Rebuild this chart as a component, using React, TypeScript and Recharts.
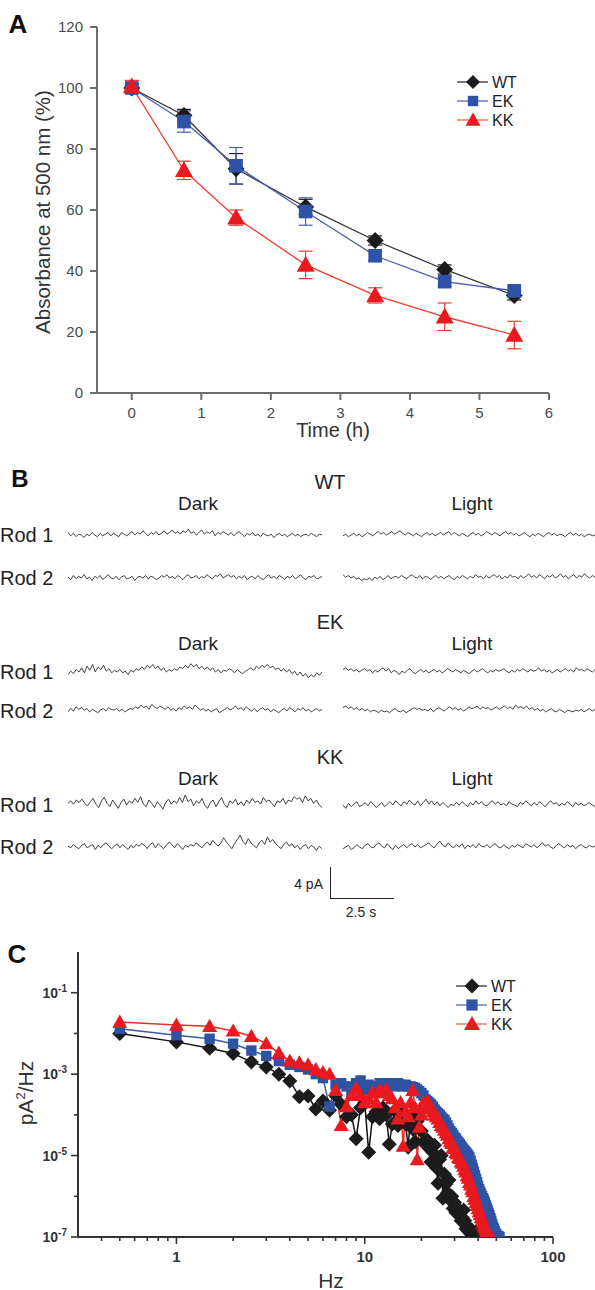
import React from 'react';
import { LineChart, Line, XAxis, YAxis, ErrorBar } from 'recharts';

const FONT = '"Liberation Sans", Arial, Helvetica, sans-serif';

// ---- Panel A: absorbance at 500 nm vs time ----
const timeH = [0, 0.75, 1.5, 2.5, 3.5, 4.5, 5.5];
const wtAbs = [100, 91, 73.5, 61, 50, 40.5, 32];
const ekAbs = [100, 89, 74.5, 59.5, 45, 36.5, 33.5];
const kkAbs = [100.5, 73, 57.5, 42, 32, 25, 19];
const wtAbsErr = [1, 2, 5, 2.5, 1.5, 1.5, 1.5];
const ekAbsErr = [1.5, 3.5, 6, 4.5, 1.5, 1.5, 1.5];
const kkAbsErr = [2, 3, 2.5, 4.5, 2.5, 4.5, 4.5];
const absXTicks = [0, 1, 2, 3, 4, 5, 6];
const absYTicks = [0, 20, 40, 60, 80, 100, 120];

// ---- Panel B: current traces (0.1 pA units) ----
const genotypes = ['WT', 'EK', 'KK'];
const conditions = ['Dark', 'Light'];
const rodNames = ['Rod 1', 'Rod 2'];

const wtDarkRod1 = [3, -1, 2, -2, 1, 0, -3, 1, -1, 3, 0, -2, 2, -1, 1, 3, -1, 2, 0, -2, 3, 1, -1, 2, 4, 0, 3, 1, 5, 2, -1, 3, 1, 4, 0, 2, 5, 1, 3, 6, 2, 4, 1, 5, 3, 7, 2, 4, 0, 3, 6, 1, 4, 2, 5, -1, 3, 1, 4, 2, 0, 3, -1, 2, 4, 1, -2, 2, 0, 3, -1, 1, -2, 2, 0, -1, 1, -3, 0, 2, -1, 1, -2, 0, 2, -1, 1, -2, 0, 1, -1, 2, 0, -2, 1, 0];
const wtDarkRod2 = [1, -2, 3, -1, 2, 0, 4, -1, 1, -3, 2, 0, 3, -2, 1, 4, 0, -1, 2, -2, 1, 3, -1, 0, 2, -3, 1, 2, 0, 3, -1, 2, 1, -2, 0, 3, 1, 4, 0, 2, -1, 3, 1, -2, 2, 4, 0, 1, 3, -1, 2, 0, 4, 1, -1, 3, 2, 5, 0, 2, 4, 1, 3, -1, 2, 0, 3, -2, 1, 2, -1, 3, 0, -2, 1, 4, 0, 2, -1, 3, 1, -2, 2, 0, 3, -1, 1, 4, 0, -2, 2, 1, 3, -1, 0, 2];
const wtLightRod1 = [-1, 1, -2, 0, 2, -1, 1, -2, 0, 3, 1, -1, 2, 4, 1, 3, 0, 2, 4, 1, 3, 5, 2, 0, 3, 1, -1, 2, 0, -2, 1, 3, 0, 2, -1, 1, 3, 0, 2, 4, 0, 3, 1, -1, 2, 0, -2, 1, 3, 0, 2, -1, 1, 4, 2, 0, 3, 1, -1, 2, 4, 1, 3, 0, 2, -1, 1, 3, 0, -2, 1, -1, 2, 0, -2, 1, 3, 0, 2, -1, 1, 0, -2, 1, 3, 0, 2, -1, 1, -2, 0, 1, -1, 0];
const wtLightRod2 = [4, 1, 3, 0, 2, -1, 0, -3, -1, -2, 0, -3, 1, -1, 2, -2, 0, 3, -1, 1, 2, 0, 3, 1, -1, 2, 4, 1, 0, 3, -1, 2, 1, -2, 1, 3, 0, 2, -1, 1, 3, 0, -2, 2, 0, 3, 1, -1, 2, 0, 4, 1, 2, -1, 3, 0, 2, 4, 1, 3, -1, 2, 0, 4, 1, 2, -1, 3, 0, 2, 5, 1, 3, 0, 4, 2, -1, 3, 1, 4, 0, 2, 5, 1, 3, -1, 2, 4, 0, 3, 1, 5, 2, 0, 3, 1];
const ekDarkRod1 = [-3, 1, -2, 3, 0, 5, -1, 7, 2, 9, 0, 6, 3, 8, 1, 4, -1, 2, 0, 3, -1, 1, -3, 2, 0, 4, 2, 6, 3, 8, 5, 9, 4, 7, 2, 5, 0, 3, 1, 4, 2, 6, 4, 8, 5, 10, 6, 9, 4, 7, 3, 6, 2, 5, 0, 3, -1, 2, 1, 4, 2, -1, 3, 0, -2, 1, 3, 5, 2, 7, 4, 8, 6, 9, 5, 7, 3, 5, 1, 4, 0, 3, -2, 1, -4, 0, -5, -2, -7, -3, -6, -1, -4, 0];
const ekDarkRod2 = [-1, 3, 0, 5, 2, 4, 1, 3, -1, 2, 0, -2, 1, 3, 0, 4, 2, 1, 3, 0, 2, -1, 1, 3, 2, 5, 3, 7, 4, 6, 2, 8, 5, 3, 6, 4, 2, 5, 1, 3, 0, 4, 2, 6, 3, 5, 2, 7, 4, 1, 3, 0, 2, -1, 1, 3, -2, 0, 2, 4, 1, 3, 6, 2, 4, 1, 5, 2, 0, 3, -1, 2, 4, 1, 3, -1, 2, 0, -2, 1, 3, 0, 4, 2, -1, 3, 1, 4, 0, 2, -1, 1, 3, 0, 2];
const ekLightRod1 = [3, 5, 2, 4, 1, 3, 0, 2, 4, 1, 3, -1, 2, 0, 3, 5, 1, 4, -1, 2, 0, -3, 1, -1, 2, 4, 0, -2, 1, 3, 0, 2, -1, 1, 3, 0, 2, -1, 1, 4, 2, 0, 3, 1, -1, 2, 0, -2, 1, 3, 0, 2, 4, 1, -1, 2, 0, 3, 1, 2, 4, 1, -1, 2, 0, 3, 1, 4, 2, 0, 3, 1, 2, 5, 1, 3, 0, 2, -1, 1, 3, 0, 2, 4, 1, 3, 0, 5, 2, 3, 1, 4, 2, 0, 3];
const ekLightRod2 = [4, 6, 3, 5, 2, 4, 1, 3, 0, 2, -1, 1, 0, -2, 1, -1, 0, -2, 1, 3, 0, -1, 1, -2, 0, 2, 4, 2, 3, 1, 2, 0, 3, -1, 2, 4, 2, 0, 3, 5, 2, 4, 1, 3, 0, 2, 5, 3, 4, 6, 2, 5, 3, 4, 1, 3, 5, 2, 4, 6, 3, 5, 2, 7, 4, 5, 3, 6, 2, 4, 1, 3, 0, 2, -1, 1, 3, 0, -1, 2, 0, -2, 1, 0, -1, 1, 0, 2, -1, 1, 3, 0, 2];
const kkDarkRod1 = [2, 5, 1, 6, 3, 7, 2, -1, 4, 8, 1, -3, 5, 9, 2, -2, 6, 1, -4, 3, 7, 0, 5, 2, 8, 3, 10, 1, -2, 6, 2, -3, 4, 0, -5, 3, 7, 1, 5, 2, 9, 3, 12, 4, 7, -1, 5, 2, 8, 0, -4, 3, 6, -2, 4, 9, 1, -3, 5, 2, 7, 0, 4, -1, 6, 2, 8, 3, 5, 1, 9, 4, 6, 2, -2, 5, 3, 8, 1, 6, 4, 10, 7, 9, 3, 11, 5, 8, 2, 6, 0, -3];
const kkDarkRod2 = [1, -1, 3, 0, -2, 2, 4, -1, 1, 3, -3, 2, -1, 3, 5, 1, -2, 1, 4, -1, 3, 0, -3, 2, -1, 3, 1, 4, 2, -2, 3, 5, -1, 4, 1, -2, 2, 6, 3, -1, 4, 1, -3, 2, 0, 3, 1, 5, 2, -1, 3, 6, 2, 8, 4, 1, 5, 11, 6, 2, -2, 4, 9, 14, 7, 3, 10, 5, 2, -1, 5, 8, 3, 12, 6, 9, 4, 1, -2, 3, 6, 1, 4, -1, 2, -3, 1, 3, -2, 2, 0, -4, 1, -2];
const kkLightRod1 = [0, -4, 2, -2, 1, 4, -2, 0, 3, -1, 4, 1, -3, 0, 3, -2, 1, 4, 0, 5, 2, -1, 4, 1, 6, 2, 0, 5, -1, 3, 7, 1, 5, 0, 4, -1, 3, 0, -3, 1, -1, 3, 0, 4, 1, -2, 3, 0, 5, 1, 4, 0, -1, 3, 5, 1, 4, 0, 2, -1, 4, 1, 0, -2, 3, 1, 5, 2, -1, 3, 0, 4, 1, -2, 2, 5, 1, 3, -1, 2, 0, 4, 1, -2, 3, 0, 2, -1, 1, 3, 0, -2];
const kkLightRod2 = [-2, 0, 2, -3, -1, 3, 0, -2, 2, 4, 0, -1, 3, 5, 1, -1, 4, 0, -3, 2, -2, 1, 3, -1, 2, 4, 0, 3, -1, 1, 3, 5, 1, -1, 4, 7, 2, 0, 5, 1, -1, 3, 0, 4, -2, 2, 0, 3, -1, 4, 1, 0, 3, -1, 2, 4, 0, -1, 3, 0, -2, 2, 0, 3, 1, -1, 4, 2, 0, 3, -1, 2, 5, 1, 3, 0, -2, 2, 4, 1, -1, 3, 0, 2, -2, 1, 3, 0, -1, 2, 0, 1];

const traces = [
  [[wtDarkRod1, wtLightRod1], [wtDarkRod2, wtLightRod2]],
  [[ekDarkRod1, ekLightRod1], [ekDarkRod2, ekLightRod2]],
  [[kkDarkRod1, kkLightRod1], [kkDarkRod2, kkLightRod2]],
];

// ---- Panel C: power spectra ----
const freqHz = [
  0.5, 1, 1.5, 2, 2.5, 3, 3.5, 4, 4.5, 5,
  5.5, 6, 6.5, 7, 7.5, 8, 8.5, 9, 9.5, 10,
  10.5, 11, 11.5, 12, 12.5, 13, 13.5, 14, 14.5, 15,
  15.5, 16, 16.5, 17, 17.5, 18, 18.5, 19, 19.5, 20,
  20.5, 21, 21.5, 22, 22.5, 23, 23.5, 24, 24.5, 25,
  25.5, 26, 26.5, 27, 27.5, 28, 28.5, 29, 29.5, 30,
  30.5, 31, 31.5, 32, 32.5, 33, 33.5, 34, 34.5, 35,
  35.5, 36, 36.5, 37, 37.5, 38, 38.5, 39, 39.5, 40,
  40.5, 41, 41.5, 42, 42.5, 43, 43.5, 44, 44.5, 45,
  45.5, 46, 46.5, 47, 47.5, 48, 48.5, 49, 49.5, 50,
  50.5, 51, 51.5, 52,
];
const wtPsd = [
  1.0e-2, 6.2e-3, 4.3e-3, 3.2e-3, 2.0e-3, 1.5e-3, 1.0e-3, 6.8e-4, 2.8e-4, 2.9e-4,
  1.4e-4, 2.2e-4, 1.3e-4, 3.0e-4, 1.8e-4, 9.0e-5, 1.0e-4, 2.6e-5, 1.5e-4, 2.0e-4,
  1.2e-5, 9.0e-5, 1.2e-4, 8.0e-5, 1.5e-4, 1.0e-4, 1.9e-5, 6.0e-5, 1.3e-4, 5.5e-5,
  8.0e-5, 1.1e-4, 6.0e-5, 1.6e-5, 9.0e-5, 4.5e-5, 2.2e-5, 7.0e-5, 1.2e-4, 4.0e-5,
  2.2e-5, 1.9e-5, 2.4e-5, 1.5e-5, 7.0e-6, 1.2e-5, 1.8e-5, 5.0e-6, 2.1e-6, 8.0e-6,
  1.0e-5, 9.0e-7, 3.5e-6, 2.0e-6, 1.2e-6, 2.5e-6, 8.0e-7, 1.0e-6, 5.0e-7, 7.0e-7,
  4.0e-7, 5.0e-7, 4.6e-7, 4.0e-7, 2.5e-7, 3.0e-7, 4.6e-7, 2.5e-7, 1.6e-7, 1.8e-7,
  1.4e-7, 1.5e-7, 1.2e-7, 1.5e-7, 1.1e-7, 1.2e-7, 1.05e-7, 1.3e-7, 1.0e-7, 1.0e-7,
  null, null, null, null, null, null, null, null, null, null,
  null, null, null, null, null, null, null, null, null, null,
  null, null, null, null,
];
const ekPsd = [
  1.3e-2, 9.0e-3, 7.4e-3, 5.6e-3, 3.8e-3, 2.8e-3, 2.1e-3, 1.7e-3, 1.5e-3, 1.3e-3,
  1.0e-3, 8.0e-4, 1.6e-4, 5.5e-4, 6.0e-4, 5.0e-4, 3.5e-4, 6.0e-4, 7.0e-4, 4.0e-4,
  5.5e-4, 4.5e-4, 5.0e-4, 6.0e-4, 5.0e-4, 5.5e-4, 6.0e-4, 5.5e-4, 5.0e-4, 6.0e-4,
  5.5e-4, 5.0e-4, 5.5e-4, 5.0e-4, 5.0e-4, 4.8e-4, 4.6e-4, 4.2e-4, 3.8e-4, 3.4e-4,
  3.0e-4, 2.4e-4, 2.2e-4, 2.0e-4, 1.8e-4, 1.6e-4, 1.35e-4, 1.2e-4, 1.1e-4, 1.0e-4,
  9.0e-5, 8.0e-5, 7.5e-5, 6.5e-5, 5.5e-5, 4.6e-5, 4.0e-5, 3.6e-5, 3.2e-5, 2.8e-5,
  2.6e-5, 2.3e-5, 2.1e-5, 1.9e-5, 1.7e-5, 1.55e-5, 1.4e-5, 1.3e-5, 1.2e-5, 1.1e-5,
  1.0e-5, 9.0e-6, 7.5e-6, 6.0e-6, 5.0e-6, 4.0e-6, 3.3e-6, 2.7e-6, 2.2e-6, 1.8e-6,
  1.5e-6, 1.3e-6, 1.15e-6, 1.0e-6, 9.0e-7, 8.0e-7, 7.0e-7, 6.0e-7, 5.2e-7, 4.5e-7,
  3.9e-7, 3.4e-7, 2.9e-7, 2.5e-7, 2.1e-7, 1.8e-7, 1.6e-7, 1.4e-7, 1.25e-7, 1.15e-7,
  1.08e-7, 1.04e-7, 1.02e-7, 1.0e-7,
];
const kkPsd = [
  1.9e-2, 1.6e-2, 1.5e-2, 1.15e-2, 8.5e-3, 5.6e-3, 3.3e-3, 2.1e-3, 1.9e-3, 1.7e-3,
  1.3e-3, 1.1e-3, 1.0e-3, 4.0e-4, 5.5e-5, 1.6e-4, 3.0e-4, 4.5e-4, 3.0e-4, 2.0e-4,
  2.5e-4, 3.5e-4, 2.0e-4, 4.0e-4, 3.5e-4, 4.2e-4, 3.0e-4, 2.5e-4, 1.5e-4, 8.0e-5,
  2.0e-4, 1.7e-5, 1.2e-4, 9.0e-5, 2.0e-4, 4.0e-4, 1.5e-4, 8.0e-6, 5.0e-5, 1.0e-4,
  2.0e-4, 1.6e-4, 2.2e-4, 1.4e-4, 1.5e-4, 1.2e-4, 1.0e-4, 9.0e-5, 8.0e-5, 6.5e-5,
  5.5e-5, 5.0e-5, 4.2e-5, 3.6e-5, 3.2e-5, 2.6e-5, 2.2e-5, 2.0e-5, 1.6e-5, 1.5e-5,
  1.2e-5, 1.1e-5, 9.0e-6, 8.5e-6, 7.0e-6, 6.5e-6, 5.5e-6, 4.5e-6, 4.0e-6, 3.2e-6,
  2.8e-6, 2.2e-6, 1.9e-6, 1.5e-6, 1.3e-6, 1.0e-6, 8.5e-7, 7.0e-7, 6.0e-7, 5.0e-7,
  4.2e-7, 3.6e-7, 3.0e-7, 2.6e-7, 2.2e-7, 1.9e-7, 1.7e-7, 1.5e-7, 1.35e-7, 1.2e-7,
  1.12e-7, 1.06e-7, 1.02e-7, 1.0e-7, null, null, null, null, null, null,
  null, null, null, null,
];
const psdXTicks = [0.4, 0.5, 0.6, 0.7, 0.8, 0.9, 1, 2, 3, 4, 5, 6, 7, 8, 9, 10, 20, 30, 40, 50, 60, 70, 80, 90, 100];
const psdXLabels = [1, 10, 100];
const psdYTicks = [1e-7, 1e-6, 1e-5, 1e-4, 1e-3, 1e-2, 1e-1];
const psdYLabels = [1e-7, 1e-5, 1e-3, 1e-1];

const absData = timeH.map((t, i) => ({
  t, wt: wtAbs[i], ek: ekAbs[i], kk: kkAbs[i],
  wtErr: wtAbsErr[i], ekErr: ekAbsErr[i], kkErr: kkAbsErr[i],
}));
const psdData = freqHz.map((f, i) => ({ f, wt: wtPsd[i], ek: ekPsd[i], kk: kkPsd[i] }));

const BLACK = '#1c1c1c';
const BLUE = '#2e52a4';
const RED = '#e8191f';

const Marker = ({ kind, cx, cy, s, fill }: any) => {
  if (cx == null || cy == null || isNaN(cy)) return null;
  if (kind === 'diamond')
    return <polygon points={`${cx},${cy - s} ${cx + s},${cy} ${cx},${cy + s} ${cx - s},${cy}`} fill={fill} />;
  if (kind === 'square')
    return <rect x={cx - s * 0.8} y={cy - s * 0.8} width={s * 1.6} height={s * 1.6} fill={fill} />;
  return <polygon points={`${cx},${cy - s} ${cx + s},${cy + s * 0.75} ${cx - s},${cy + s * 0.75}`} fill={fill} />;
};

const dotFn = (kind: string, s: number, fill: string) => (p: any) => (
  <Marker key={`${kind}-${p.index}`} kind={kind} cx={p.cx} cy={p.cy} s={s} fill={fill} />
);

const Txt = ({ x, y, size = 19, anchor = 'middle', weight = 400, color = '#222', rotate = 0, children }: any) => {
  const tx = anchor === 'middle' ? '-50%' : anchor === 'end' ? '-100%' : '0%';
  return (
    <div
      style={{
        position: 'absolute', left: x, top: y, fontSize: size, fontWeight: weight, color,
        lineHeight: 1, whiteSpace: 'nowrap',
        transform: `translate(${tx}, -50%) rotate(${rotate}deg)`,
      }}
    >
      {children}
    </div>
  );
};

const SeriesKey = ({ x, y, gap, sizes }: any) => {
  const items = [
    { name: 'WT', kind: 'diamond', fill: BLACK, line: '#333' },
    { name: 'EK', kind: 'square', fill: BLUE, line: '#5566b0' },
    { name: 'KK', kind: 'triangle', fill: RED, line: '#f06050' },
  ];
  return (
    <svg style={{ position: 'absolute', left: x, top: y }} width={110} height={gap * 3 + 10}>
      {items.map((it, k) => {
        const cy = 8 + k * gap;
        return (
          <g key={it.name}>
            <line x1={2} x2={33} y1={cy} y2={cy} stroke={it.line} strokeWidth={1.3} />
            <Marker kind={it.kind} cx={18} cy={cy} s={sizes[k]} fill={it.fill} />
            <text x={37} y={cy + 6} fontSize={16} fill="#222" fontFamily={FONT}>{it.name}</text>
          </g>
        );
      })}
    </svg>
  );
};

const Trace = ({ values, x, y, w }: any) => {
  const data = values.map((v: number, i: number) => ({ i, v }));
  return (
    <div style={{ position: 'absolute', left: x, top: y - 20 }}>
      <LineChart width={w} height={40} data={data} margin={{ top: 0, right: 0, bottom: 0, left: 0 }}>
        <XAxis dataKey="i" type="number" domain={['dataMin', 'dataMax']} hide />
        <YAxis domain={[-24, 24]} hide />
        <Line type="linear" dataKey="v" stroke="#2c2c2c" strokeWidth={0.9} dot={false} activeDot={false} isAnimationActive={false} />
      </LineChart>
    </div>
  );
};

const PsdYTick = ({ x, y, payload }: any) => {
  const v = payload.value;
  const exp = Math.round(Math.log10(v));
  const major = psdYLabels.includes(v);
  return (
    <g>
      <line x1={x} x2={x - (major ? 7 : 4)} y1={y} y2={y} stroke="#333" strokeWidth={1.6} />
      {major && (
        <text x={x - 11} y={y + 5} textAnchor="end" fontSize={14} fontWeight={700} fill="#333">
          10<tspan dy={-6} fontSize={10}>{exp}</tspan>
        </text>
      )}
    </g>
  );
};

const PsdXTick = ({ x, y, payload }: any) => {
  const major = psdXLabels.includes(payload.value);
  return (
    <g>
      <line x1={x} x2={x} y1={y} y2={y + (major ? 7 : 4)} stroke="#333" strokeWidth={1.6} />
      {major && (
        <text x={x} y={y + 25} textAnchor="middle" fontSize={15} fontWeight={700} fill="#333">
          {payload.value}
        </text>
      )}
    </g>
  );
};

const titleY = [482, 622, 757];
const condY = [503, 643, 778];
const rodY = [[535, 578], [672, 711], [805, 847]];
const condX = [198, 472];
const traceX = [68, 343];
const traceW = [254, 252];

export default function App() {
  const axisA = { stroke: '#6d6d6d', strokeWidth: 2 };
  return (
    <div style={{ position: 'absolute', left: 0, top: 0, width: 595, height: 1290, background: '#fff', fontFamily: FONT, overflow: 'hidden' }}>
      {/* A */}
      <div style={{ position: 'absolute', left: 0, top: 0 }}>
        <LineChart width={595} height={445} data={absData} margin={{ top: 27, right: 46, bottom: 0, left: 0 }}>
          <XAxis
            dataKey="t" type="number" domain={[-0.5, 6]} ticks={absXTicks} allowDataOverflow interval={0}
            axisLine={axisA} tickLine={axisA} tickSize={7} tickMargin={7} height={52}
            tick={{ fill: '#4a4a4a', fontSize: 15 }}
          />
          <YAxis
            type="number" domain={[0, 120]} ticks={absYTicks} interval={0}
            axisLine={axisA} tickLine={axisA} tickSize={7} tickMargin={7} width={97}
            tick={{ fill: '#4a4a4a', fontSize: 15 }}
          />
          <Line type="linear" dataKey="wt" stroke="#333" strokeWidth={1.3} dot={dotFn('diamond', 8.5, BLACK)} activeDot={false} isAnimationActive={false}>
            <ErrorBar dataKey="wtErr" width={7} stroke={BLACK} strokeWidth={1.2} direction="y" />
          </Line>
          <Line type="linear" dataKey="ek" stroke="#4a5cae" strokeWidth={1.3} dot={dotFn('square', 8.5, BLUE)} activeDot={false} isAnimationActive={false}>
            <ErrorBar dataKey="ekErr" width={7} stroke="#4a5cae" strokeWidth={1.2} direction="y" />
          </Line>
          <Line type="linear" dataKey="kk" stroke="#f03a30" strokeWidth={1.3} dot={dotFn('triangle', 9, RED)} activeDot={false} isAnimationActive={false}>
            <ErrorBar dataKey="kkErr" width={7} stroke="#f03a30" strokeWidth={1.2} direction="y" />
          </Line>
        </LineChart>
      </div>
      <SeriesKey x={455} y={74} gap={19} sizes={[7, 6.5, 7.5]} />
      <Txt x={18} y={24} size={26} weight={700} color="#111">A</Txt>
      <Txt x={43} y={212} size={20.5} rotate={-90} color="#333">Absorbance at 500 nm (%)</Txt>
      <Txt x={333} y={430} size={20} color="#333">Time (h)</Txt>

      {/* B */}
      <Txt x={20} y={479} size={24} weight={700} color="#111">B</Txt>
      {genotypes.map((g, gi) => (
        <React.Fragment key={g}>
          <Txt x={330} y={titleY[gi]} size={20}>{g}</Txt>
          {conditions.map((c, ci) => (
            <Txt key={c} x={condX[ci]} y={condY[gi]} size={19}>{c}</Txt>
          ))}
          {rodNames.map((r, ri) => (
            <React.Fragment key={r}>
              <Txt x={0} y={rodY[gi][ri]} size={20} anchor="start">{r}</Txt>
              {conditions.map((c, ci) => (
                <Trace key={c} values={traces[gi][ri][ci]} x={traceX[ci]} y={rodY[gi][ri]} w={traceW[ci]} />
              ))}
            </React.Fragment>
          ))}
        </React.Fragment>
      ))}
      {/* scale bar */}
      <div style={{ position: 'absolute', left: 330, top: 867, width: 63, height: 31, borderLeft: '1.5px solid #222', borderBottom: '1.5px solid #222' }} />
      <Txt x={323} y={884} size={14} anchor="end">4 pA</Txt>
      <Txt x={361} y={912} size={14}>2.5 s</Txt>

      {/* C */}
      <div style={{ position: 'absolute', left: 0, top: 930 }}>
        <LineChart width={595} height={360} data={psdData} margin={{ top: 22, right: 42, bottom: 0, left: 0 }}>
          <XAxis
            dataKey="f" type="number" scale="log" domain={[0.3, 100]} ticks={psdXTicks} allowDataOverflow interval={0}
            axisLine={{ stroke: '#333', strokeWidth: 2 }} tickLine={false} tickSize={0} tickMargin={0} height={53}
            tick={<PsdXTick />}
          />
          <YAxis
            type="number" scale="log" domain={[1e-7, 1]} ticks={psdYTicks} allowDataOverflow interval={0}
            axisLine={{ stroke: '#333', strokeWidth: 2 }} tickLine={false} tickSize={0} tickMargin={0} width={78}
            tick={<PsdYTick />}
          />
          <Line type="linear" dataKey="wt" stroke="#111" strokeWidth={1.5} dot={dotFn('diamond', 7.5, BLACK)} activeDot={false} isAnimationActive={false} />
          <Line type="linear" dataKey="ek" stroke="#3d5aa8" strokeWidth={1.5} dot={dotFn('square', 6.5, BLUE)} activeDot={false} isAnimationActive={false} />
          <Line type="linear" dataKey="kk" stroke="#ee2a24" strokeWidth={1.5} dot={dotFn('triangle', 7.5, RED)} activeDot={false} isAnimationActive={false} />
        </LineChart>
      </div>
      <SeriesKey x={454} y={978} gap={19} sizes={[7.5, 7, 8]} />
      <Txt x={17} y={954} size={26} weight={700} color="#111">C</Txt>
      <Txt x={25} y={1093} size={21} rotate={-90} color="#333">pA<sup style={{ fontSize: 13 }}>2</sup>/Hz</Txt>
      <Txt x={331} y={1280} size={21} color="#333">Hz</Txt>
    </div>
  );
}
